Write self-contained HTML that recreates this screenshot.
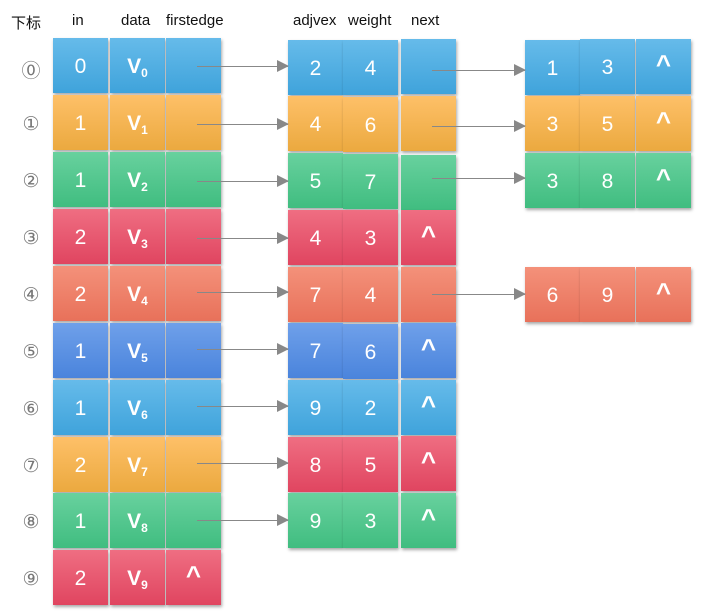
<!DOCTYPE html>
<html><head><meta charset="utf-8"><style>
body{margin:0;width:711px;height:614px;background:#fff;position:relative;overflow:hidden;font-family:"Liberation Sans","Noto Sans CJK SC",sans-serif}
.h{position:absolute;top:12px;font-size:15px;color:#111}
.n{position:absolute;left:18px;width:26px;text-align:center;font-size:19px;color:#777;font-family:"DejaVu Sans","Noto Sans CJK SC",sans-serif}
.c{position:absolute;width:55px;height:55px;color:#fff;font-size:21px;text-align:center;line-height:58px;box-shadow:1px 2px 3px rgba(0,0,0,.35)}
.c sub{font-size:12px;vertical-align:-4px;font-weight:bold}
.v{font-weight:bold}
.up{font-weight:bold;line-height:50px;font-size:26px;transform-origin:center}
.b{background:linear-gradient(#66bbea,#3fa3db)}
.o{background:linear-gradient(#fec068,#eba93f)}
.g{background:linear-gradient(#68d19e,#40bd80)}
.r{background:linear-gradient(#ef6e82,#e04560)}
.s{background:linear-gradient(#f4917a,#e8715a)}
.d{background:linear-gradient(#6fa0ea,#4a84dc)}
.a{position:absolute;height:1px;background:#888;z-index:5}
.a:after{content:"";position:absolute;right:-1px;top:-6px;border-left:12px solid #888;border-top:6.5px solid transparent;border-bottom:6.5px solid transparent}
</style></head><body>
<div class="h" style="left:11px">下标</div>
<div class="h" style="left:72px">in</div>
<div class="h" style="left:121px">data</div>
<div class="h" style="left:166px">firstedge</div>
<div class="h" style="left:293px">adjvex</div>
<div class="h" style="left:348px">weight</div>
<div class="h" style="left:411px">next</div>

<div class="n" style="top:56px">⓪</div>
<div class="n" style="top:113px">①</div>
<div class="n" style="top:170px">②</div>
<div class="n" style="top:227px">③</div>
<div class="n" style="top:284px">④</div>
<div class="n" style="top:341px">⑤</div>
<div class="n" style="top:398px">⑥</div>
<div class="n" style="top:455px">⑦</div>
<div class="n" style="top:511px">⑧</div>
<div class="n" style="top:568px">⑨</div>

<div class="c b" style="left:53px;top:38px">0</div><div class="c b v" style="left:110px;top:38px">V<sub>0</sub></div><div class="c b" style="left:166px;top:38px"></div>
<div class="c o" style="left:53px;top:95px">1</div><div class="c o v" style="left:110px;top:95px">V<sub>1</sub></div><div class="c o" style="left:166px;top:95px"></div>
<div class="c g" style="left:53px;top:152px">1</div><div class="c g v" style="left:110px;top:152px">V<sub>2</sub></div><div class="c g" style="left:166px;top:152px"></div>
<div class="c r" style="left:53px;top:209px">2</div><div class="c r v" style="left:110px;top:209px">V<sub>3</sub></div><div class="c r" style="left:166px;top:209px"></div>
<div class="c s" style="left:53px;top:266px">2</div><div class="c s v" style="left:110px;top:266px">V<sub>4</sub></div><div class="c s" style="left:166px;top:266px"></div>
<div class="c d" style="left:53px;top:323px">1</div><div class="c d v" style="left:110px;top:323px">V<sub>5</sub></div><div class="c d" style="left:166px;top:323px"></div>
<div class="c b" style="left:53px;top:380px">1</div><div class="c b v" style="left:110px;top:380px">V<sub>6</sub></div><div class="c b" style="left:166px;top:380px"></div>
<div class="c o" style="left:53px;top:437px">2</div><div class="c o v" style="left:110px;top:437px">V<sub>7</sub></div><div class="c o" style="left:166px;top:437px"></div>
<div class="c g" style="left:53px;top:493px">1</div><div class="c g v" style="left:110px;top:493px">V<sub>8</sub></div><div class="c g" style="left:166px;top:493px"></div>
<div class="c r" style="left:53px;top:550px">2</div><div class="c r v" style="left:110px;top:550px">V<sub>9</sub></div><div class="c r up" style="left:166px;top:550px">^</div>

<div class="c b" style="left:288px;top:40px">2</div><div class="c b" style="left:343px;top:40px">4</div><div class="c b" style="left:401px;top:39px"></div>
<div class="c o" style="left:288px;top:96px">4</div><div class="c o" style="left:343px;top:97px">6</div><div class="c o" style="left:401px;top:96px"></div>
<div class="c g" style="left:288px;top:153px">5</div><div class="c g" style="left:343px;top:154px">7</div><div class="c g" style="left:401px;top:155px"></div>
<div class="c r" style="left:288px;top:210px">4</div><div class="c r" style="left:343px;top:210px">3</div><div class="c r up" style="left:401px;top:210px">^</div>
<div class="c s" style="left:288px;top:267px">7</div><div class="c s" style="left:343px;top:267px">4</div><div class="c s" style="left:401px;top:267px"></div>
<div class="c d" style="left:288px;top:323px">7</div><div class="c d" style="left:343px;top:324px">6</div><div class="c d up" style="left:401px;top:323px">^</div>
<div class="c b" style="left:288px;top:380px">9</div><div class="c b" style="left:343px;top:380px">2</div><div class="c b up" style="left:401px;top:380px">^</div>
<div class="c r" style="left:288px;top:437px">8</div><div class="c r" style="left:343px;top:437px">5</div><div class="c r up" style="left:401px;top:436px">^</div>
<div class="c g" style="left:288px;top:493px">9</div><div class="c g" style="left:343px;top:493px">3</div><div class="c g up" style="left:401px;top:493px">^</div>

<div class="c b" style="left:525px;top:40px">1</div><div class="c b" style="left:580px;top:39px">3</div><div class="c b up" style="left:636px;top:39px">^</div>
<div class="c o" style="left:525px;top:96px">3</div><div class="c o" style="left:580px;top:96px">5</div><div class="c o up" style="left:636px;top:96px">^</div>
<div class="c g" style="left:525px;top:153px">3</div><div class="c g" style="left:580px;top:153px">8</div><div class="c g up" style="left:636px;top:153px">^</div>
<div class="c s" style="left:525px;top:267px">6</div><div class="c s" style="left:580px;top:267px">9</div><div class="c s up" style="left:636px;top:267px">^</div>

<div class="a" style="left:197px;top:66px;width:91px"></div>
<div class="a" style="left:197px;top:124px;width:91px"></div>
<div class="a" style="left:197px;top:181px;width:91px"></div>
<div class="a" style="left:197px;top:238px;width:91px"></div>
<div class="a" style="left:197px;top:292px;width:91px"></div>
<div class="a" style="left:197px;top:349px;width:91px"></div>
<div class="a" style="left:197px;top:406px;width:91px"></div>
<div class="a" style="left:197px;top:463px;width:91px"></div>
<div class="a" style="left:197px;top:520px;width:91px"></div>
<div class="a" style="left:432px;top:70px;width:93px"></div>
<div class="a" style="left:432px;top:126px;width:93px"></div>
<div class="a" style="left:432px;top:178px;width:93px"></div>
<div class="a" style="left:432px;top:294px;width:93px"></div>
</body></html>
